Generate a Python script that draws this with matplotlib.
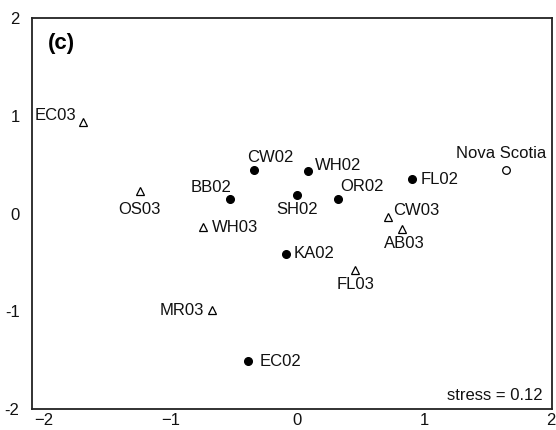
import matplotlib
matplotlib.use('Agg')
import matplotlib.pyplot as plt

plt.rcParams['font.family'] = ['Liberation Sans', 'DejaVu Sans']

# MDS coordinates
sites_02 = ['BB02', 'CW02', 'WH02', 'SH02', 'OR02', 'FL02', 'KA02', 'EC02']
x_02 = [-0.53, -0.34, 0.09, 0.00, 0.32, 0.91, -0.09, -0.39]
y_02 = [0.15, 0.44, 0.43, 0.19, 0.15, 0.35, -0.41, -1.51]

sites_03 = ['EC03', 'OS03', 'WH03', 'CW03', 'AB03', 'FL03', 'MR03']
x_03 = [-1.69, -1.24, -0.74, 0.72, 0.83, 0.46, -0.67]
y_03 = [0.94, 0.23, -0.14, -0.04, -0.16, -0.58, -0.99]

ref_site = ['Nova Scotia']
x_ref = [1.65]
y_ref = [0.45]

stress = 0.12

# label placement: (dx px, dy px, ha)
lab = {
    'BB02': (2, 11, 'right'), 'CW02': (-7, 13, 'left'), 'WH02': (6, 6, 'left'),
    'SH02': (0, -15, 'center'), 'OR02': (3, 12, 'left'), 'FL02': (8, 0, 'left'),
    'KA02': (8, 0, 'left'), 'EC02': (12, 0, 'left'),
    'EC03': (-6, 6, 'right'), 'OS03': (0, -18, 'center'), 'WH03': (9, 0, 'left'),
    'CW03': (5, 7, 'left'), 'AB03': (2, -14, 'center'), 'FL03': (0, -14, 'center'),
    'MR03': (-8, 0, 'right'), 'Nova Scotia': (-5, 16, 'center'),
}

fs = 12

fig = plt.figure(figsize=(5.56, 4.30), dpi=100)
ax = fig.add_axes([32/556, 21/430, 520/556, 391/430])

ax.plot(x_02, y_02, 'o', color='black', markersize=5.5, linestyle='none')
ax.plot(x_03, y_03, '^', markerfacecolor='white', markeredgecolor='black',
        markeredgewidth=0.9, markersize=6, linestyle='none')
ax.plot(x_ref, y_ref, 'o', markerfacecolor='white', markeredgecolor='black',
        markeredgewidth=0.9, markersize=5.5, linestyle='none')

for names, xs, ys in [(sites_02, x_02, y_02), (sites_03, x_03, y_03), (ref_site, x_ref, y_ref)]:
    for n, xx, yy in zip(names, xs, ys):
        dx, dy, ha = lab[n]
        ax.annotate(n, (xx, yy), xytext=(dx*0.72, dy*0.72), textcoords='offset points',
                    ha=ha, va='center', fontsize=fs, color='#111')

ax.set_xlim(-2.09, 2.01)
ax.set_ylim(-2.0, 2.0)
ax.set_xticks([-2, -1, 0, 1, 2])
ax.set_xticklabels(['\u22122', '\u22121', '0', '1', '2'])
ax.set_yticks([-2, -1, 0, 1, 2])
ax.set_yticklabels(['-2', '-1', '0', '1', '2'])
ax.tick_params(length=0, labelsize=fs, colors='#111')
ax.tick_params(axis='x', pad=3)
ax.tick_params(axis='y', pad=9)
for s in ax.spines.values():
    s.set_linewidth(1.3)
    s.set_color('#222')

ax.text(16/520, 1 - 25/391, '(c)', transform=ax.transAxes, fontsize=16,
        fontweight='bold', va='center', ha='left')
ax.text(1 - 9/520, 14/391, 'stress = %.2f' % stress, transform=ax.transAxes,
        fontsize=fs, ha='right', va='center', color='#111')

fig.savefig('out.png', dpi=100)
